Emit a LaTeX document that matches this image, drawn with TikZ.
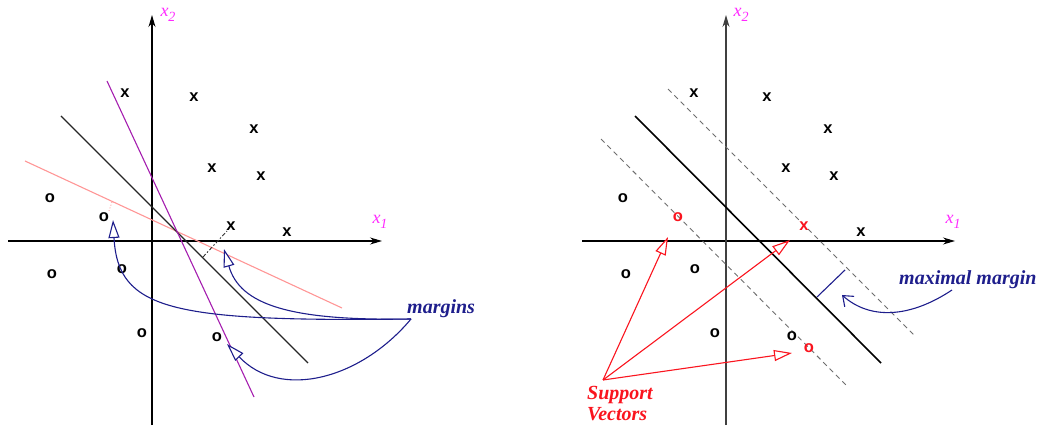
\documentclass[tikz,border=0pt]{standalone}
\usepackage{fontspec}
\setmainfont{Liberation Serif}
\setsansfont{Liberation Sans}
\usetikzlibrary{arrows.meta}
\definecolor{lblmag}{RGB}{255,40,255}
\definecolor{purp}{RGB}{165,30,175}
\definecolor{pinkl}{RGB}{255,150,150}
\definecolor{navy}{RGB}{30,30,140}
\definecolor{svred}{RGB}{250,20,30}
\definecolor{dgray}{RGB}{110,110,110}
\newcommand{\axsub}[1]{{\itshape x}\raisebox{-5pt}{\fontsize{14}{14}\selectfont\itshape #1}}
\tikzset{
  pt/.style={font=\sffamily\bfseries\fontsize{16.5}{16.5}\selectfont, inner sep=0pt},
  ptred/.style={pt, text=svred},
  axlbl/.style={text=lblmag, font=\fontsize{18}{18}\selectfont, inner sep=0pt},
  axis/.style={line width=1.1pt, -{Stealth[length=12pt,width=7pt]}},
  ann/.style={font=\bfseries\itshape\fontsize{20}{21}\selectfont, inner sep=0pt},
  openhead/.style={-{Triangle[open,fill=white,length=18pt,width=11pt]}},
}
\begin{document}
\begin{tikzpicture}[x=1pt,y=-1pt]
\useasboundingbox (0,0) rectangle (1052,430);
% ================= LEFT PANEL =================
\coordinate (LxA) at (8,241);   \coordinate (LxB) at (382,241);
\coordinate (LyA) at (152,425); \coordinate (LyB) at (152,15);
\draw[axis] (LxA) -- (LxB);
\draw[axis] (LyA) -- (LyB);
\node[axlbl] (Lx1) at (380,222) {\axsub{1}};
\node[axlbl] (Lx2) at (168,15) {\axsub{2}};
% separating lines
\coordinate (Lk1) at (61,116);  \coordinate (Lk2) at (308,363);
\coordinate (Lp1) at (107,81);  \coordinate (Lp2) at (254,397);
\coordinate (Lq1) at (25,161);  \coordinate (Lq2) at (342,308);
\draw[pinkl, line width=1.1pt] (Lq1) -- (Lq2);
\draw[black!85, line width=1.1pt] (Lk1) -- (Lk2);
\draw[purp, line width=1.1pt] (Lp1) -- (Lp2);
% points
\node[pt] (La1) at (125,93) {x};
\node[pt] (La2) at (194,97) {x};
\node[pt] (La3) at (254,129) {x};
\node[pt] (La4) at (212,168) {x};
\node[pt] (La5) at (261,176) {x};
\node[pt] (La6) at (231,226) {x};
\node[pt] (La7) at (287,232) {x};
\node[pt] (Lb1) at (50,198) {o};
\node[pt] (Lb2) at (104,217) {o};
\node[pt] (Lb3) at (52,274) {o};
\node[pt] (Lb4) at (122,269) {o};
\node[pt] (Lb5) at (142,333) {o};
\node[pt] (Lb6) at (217,337) {o};
% distance marks
\coordinate (Ld1) at (203,257); \coordinate (Ld2) at (227,231);
\draw[black!80, line width=0.9pt, dash pattern=on 4pt off 2pt on 1.5pt off 2pt] (Ld1) -- (Ld2);
\coordinate (Le1) at (112,202); \coordinate (Le2) at (109,211);
\draw[pinkl, line width=0.9pt, dotted] (Le1) -- (Le2);
% margins label and arrows
\node[ann, text=navy, anchor=base west] (margins) at (407,313) {margins};
\coordinate (Ms) at (411,319);
\coordinate (Mt1) at (113,220);
\coordinate (Mt2) at (224,249);
\coordinate (Mt3) at (227,344);
\draw[navy, line width=1.1pt, openhead] (Ms) .. controls (170,322) and (118,310) .. (Mt1);
\draw[navy, line width=1.1pt, openhead] (Ms) .. controls (290,321) and (240,305) .. (Mt2);
\draw[navy, line width=1.1pt, openhead] (Ms) .. controls (360,380) and (280,400) .. (Mt3);
% ================= RIGHT PANEL =================
\coordinate (RxA) at (582,241); \coordinate (RxB) at (955,241);
\coordinate (RyA) at (726,425); \coordinate (RyB) at (726,15);
\draw[axis] (RxA) -- (RxB);
\draw[axis, black!75] (RyA) -- (RyB);
\node[axlbl] (Rx1) at (953,222) {\axsub{1}};
\node[axlbl] (Rx2) at (741,15) {\axsub{2}};
% hyperplane and margins
\coordinate (Rk1) at (635,116); \coordinate (Rk2) at (881,363);
\coordinate (Ru1) at (668,89);  \coordinate (Ru2) at (916,337);
\coordinate (Rl1) at (601,139); \coordinate (Rl2) at (848,387);
\draw[dgray, line width=0.9pt, dash pattern=on 5pt off 4pt] (Ru1) -- (Ru2);
\draw[dgray, line width=0.9pt, dash pattern=on 5pt off 4pt] (Rl1) -- (Rl2);
\draw[black, line width=1.6pt] (Rk1) -- (Rk2);
\coordinate (Rm1) at (817,297); \coordinate (Rm2) at (845,270);
\draw[navy, line width=1.1pt] (Rm1) -- (Rm2);
\node[pt] (Ra1) at (694,93) {x};
\node[pt] (Ra2) at (767,97) {x};
\node[pt] (Ra3) at (828,129) {x};
\node[pt] (Ra4) at (786,168) {x};
\node[pt] (Ra5) at (834,176) {x};
\node[ptred] (Ra6) at (804,226) {x};
\node[pt] (Ra7) at (861,232) {x};
\node[pt] (Rb1) at (623,198) {o};
\node[ptred] (Rb2) at (678,217) {o};
\node[pt] (Rb3) at (626,274) {o};
\node[pt] (Rb4) at (695,269) {o};
\node[pt] (Rb5) at (715,333) {o};
\node[pt] (Rb6) at (792,336) {o};
\node[ptred] (Rb7) at (809,348) {o};
% maximal margin
\node[ann, text=navy, anchor=base west] (maxm) at (899,285) {maximal margin};
\coordinate (Rn1) at (952,290); \coordinate (Rn2) at (842,295);
\draw[navy, line width=1.1pt, -{Straight Barb[length=9pt,width=14pt]}] (Rn1) .. controls (910,318) and (870,320) .. (Rn2);
% support vectors
\node[ann, text=svred, anchor=north west, align=left] (sv) at (587,386) {Support\\Vectors};
\coordinate (Sv0) at (603,380);
\coordinate (Sv1) at (668,237);
\coordinate (Sv2) at (790,240);
\coordinate (Sv3) at (792,353);
\draw[svred, line width=1.1pt, openhead] (Sv0) -- (Sv1);
\draw[svred, line width=1.1pt, openhead] (Sv0) -- (Sv2);
\draw[svred, line width=1.1pt, openhead] (Sv0) -- (Sv3);
\end{tikzpicture}
\end{document}
